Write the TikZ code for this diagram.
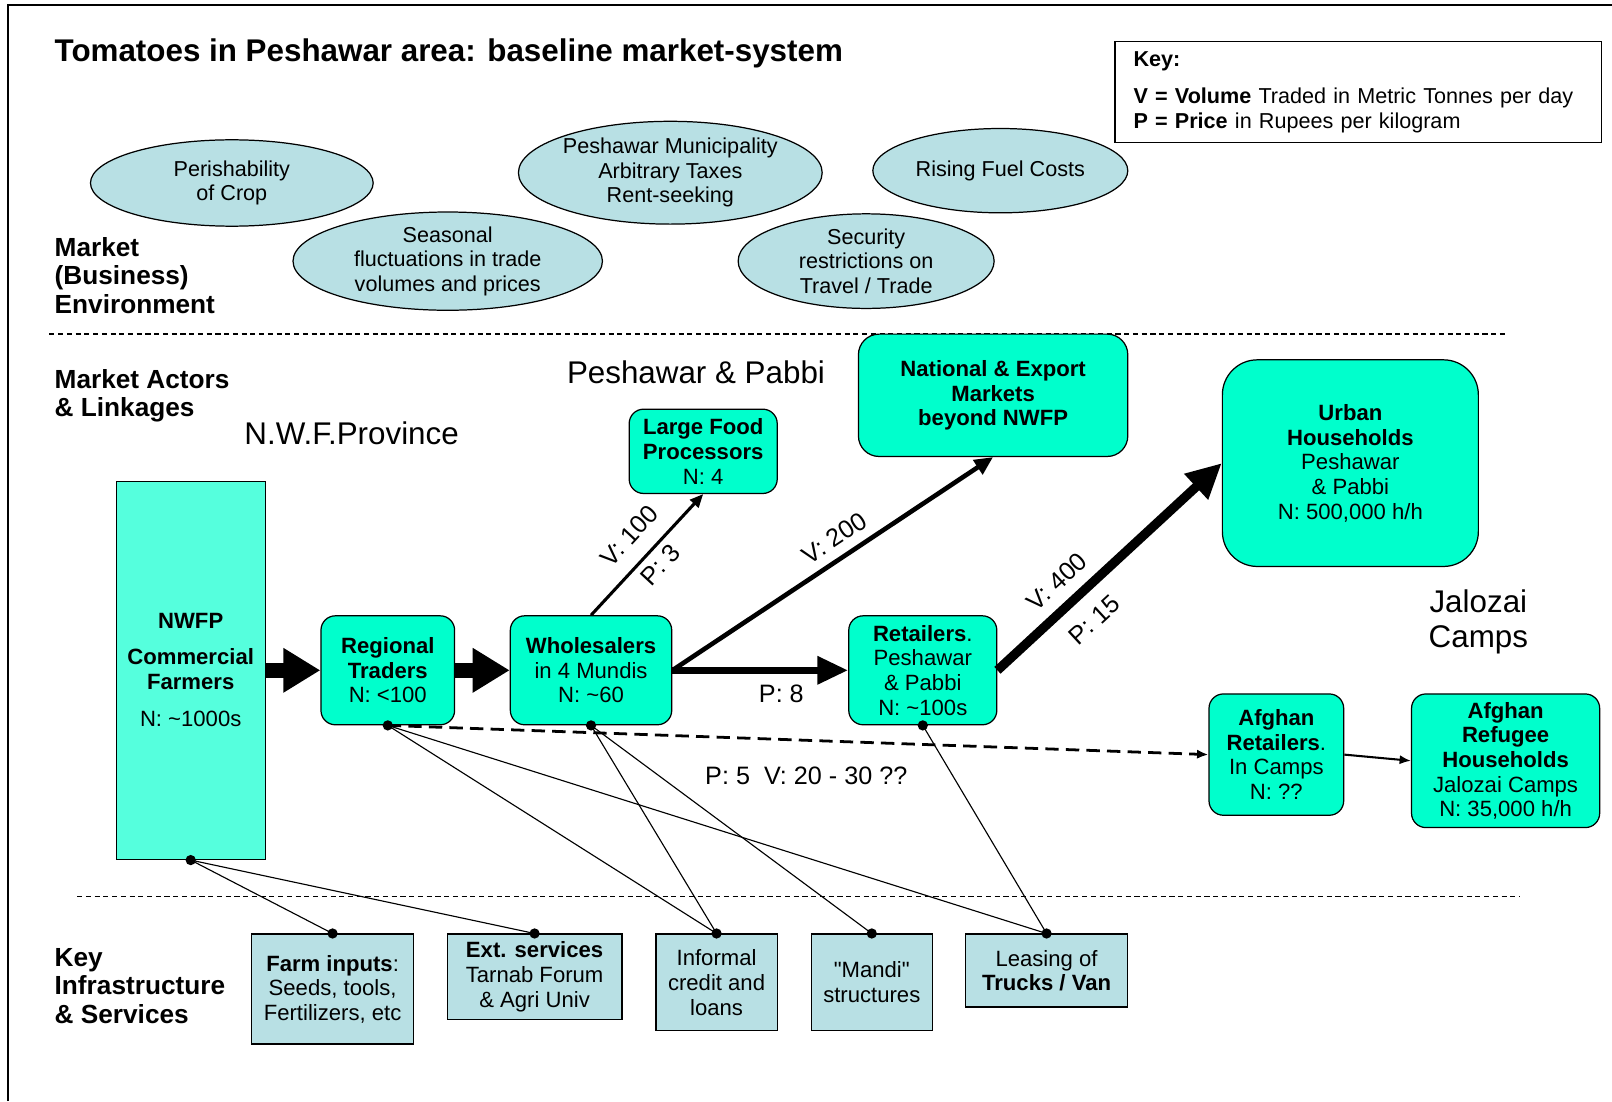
\documentclass[tikz,border=0pt]{standalone}
\usepackage{fontspec}
\setmainfont{Liberation Sans}
\usetikzlibrary{shapes,arrows.meta,calc,positioning}
\definecolor{aqua}{RGB}{0,255,204}
\definecolor{farmaqua}{RGB}{85,255,221}
\definecolor{paleblue}{RGB}{184,224,228}
\tikzset{
    semithick,
    actor/.style ={rectangle, rounded corners=14pt, draw, line width=1.2pt, fill=aqua, align=center, inner sep=2pt, font=\fontsize{21.5}{24}\selectfont},
    infra/.style ={rectangle, draw, line width=1.2pt, fill=paleblue, align=center, inner sep=2pt, font=\fontsize{21.5}{24}\selectfont},
    env/.style ={ellipse, draw, line width=1.2pt, fill=paleblue, align=center, inner sep=0pt, font=\fontsize{21}{24}\selectfont},
    heading/.style = {anchor=west, align=left, inner sep=0pt, font=\bfseries\fontsize{25.5}{28}\selectfont},
    place/.style = {align=center, inner sep=0pt, font=\fontsize{30.5}{34}\selectfont},
    bigflow/.style = {line width=14pt, -{Triangle[length=36pt,width=41pt]}},
    link/.style = {line width=1.1pt},
    sep/.style = {line width=1.3pt, dash pattern=on 5pt off 3.5pt},
    el/.style = {inner sep=2pt, sloped, font=\fontsize{24.5}{28}\selectfont}
}

\begin{document}
\begin{tikzpicture}[x=1pt, y=-1pt]
    \useasboundingbox (0,0) rectangle (1568,1071);
    \draw[line width=2pt] (8,1071) -- (8,5) -- (1568,5);

    \node[anchor=west, inner sep=0pt, font=\bfseries\fontsize{30.5}{34}\selectfont] (title) at (53,52) {Tomatoes in Peshawar area: baseline market-system};
    \node[draw, line width=1.2pt, anchor=north west, minimum height=98pt, align=left, text width=437pt, inner xsep=18pt, font=\fontsize{21}{24}\selectfont] (key) at (1084,40)
        {\textbf{Key:}\\[12pt] \textbf{V = Volume} Traded in Metric Tonnes per day\\ \textbf{P = Price} in Rupees per kilogram};

    \node[heading] (h1) at (53,268) {Market\\(Business)\\Environment};
    \node[heading] (h2) at (53,385) {Market Actors\\\& Linkages};
    \node[heading] (h3) at (53,959) {Key\\Infrastructure\\\& Services};
    \node[place] (pp) at (677,362) {Peshawar \& Pabbi};
    \node[place] (nwfp) at (342,421) {N.W.F.Province};
    \node[place] (jal) at (1438,605) {Jalozai\\Camps};

    % market environment
    \node[env, minimum width=275pt, minimum height=84pt] (15) at (225.5,178) {Perishability\\of Crop};
    \node[env, minimum width=301pt, minimum height=92pt] (16) at (435.5,254) {Seasonal\\fluctuations in trade\\volumes and prices};
    \node[env, minimum width=288pt, minimum height=100pt] (17) at (652,168) {Peshawar Municipality\\Arbitrary Taxes\\Rent-seeking};
    \node[env, minimum width=249pt, minimum height=92pt] (18) at (842.5,254) {Security\\restrictions on\\Travel / Trade};
    \node[env, minimum width=248pt, minimum height=82pt] (19) at (973,166) {Rising Fuel Costs};

    \draw[sep] (48,325) -- (1466,325);
    \draw[sep] (75,872) -- (1478,872);

    % market actors
    \node[actor, sharp corners, fill=farmaqua, minimum width=145pt, minimum height=368pt] (1) at (185.5,652)
        {\textbf{NWFP}\\[11pt] \textbf{Commercial}\\ \textbf{Farmers}\\[12pt] N: \textasciitilde1000s};
    \node[actor, minimum width=130pt, minimum height=106pt, right=53pt of 1] (2) {\textbf{Regional}\\\textbf{Traders}\\N: <100};
    \node[actor, minimum width=157pt, minimum height=106pt, right=53pt of 2] (3) {\textbf{Wholesalers}\\in 4 Mundis\\N: \textasciitilde60};
    \node[actor, minimum width=144pt, minimum height=82pt] (4) at (684,439) {\textbf{Large Food}\\\textbf{Processors}\\N: 4};
    \node[actor, rounded corners=20pt, minimum width=262pt, minimum height=119pt] (5) at (966,384.5) {\textbf{National \& Export}\\\textbf{Markets}\\\textbf{beyond NWFP}};
    \node[actor, minimum width=144pt, minimum height=106pt, right=171pt of 3] (6) {\textbf{Retailers}.\\Peshawar\\\& Pabbi\\N: \textasciitilde100s};
    \node[actor, rounded corners=34pt, minimum width=249pt, minimum height=201pt] (7) at (1313.5,450.5) {\textbf{Urban}\\\textbf{Households}\\Peshawar\\\& Pabbi\\N: 500,000 h/h};
    \node[actor, minimum width=131pt, minimum height=118pt] (8) at (1241.5,734) {\textbf{Afghan}\\\textbf{Retailers}.\\In Camps\\N: ??};
    \node[actor, minimum width=183pt, minimum height=130pt] (9) at (1464.5,740) {\textbf{Afghan}\\\textbf{Refugee}\\\textbf{Households}\\Jalozai Camps\\N: 35,000 h/h};

    % infrastructure and services
    \node[infra, anchor=north, minimum width=157pt, minimum height=107pt] (10) at (323.5,908) {\textbf{Farm inputs}:\\Seeds, tools,\\Fertilizers, etc};
    \node[infra, anchor=north, minimum width=170pt, minimum height=83pt] (11) at (520,908) {\textbf{Ext. services}\\Tarnab Forum\\\& Agri Univ};
    \node[infra, anchor=north, minimum width=118pt, minimum height=94pt] (12) at (697,908) {Informal\\credit and\\loans};
    \node[infra, anchor=north, minimum width=118pt, minimum height=94pt] (13) at (848,908) {\textquotedbl Mandi\textquotedbl\\structures};
    \node[infra, anchor=north, minimum width=158pt, minimum height=71pt] (14) at (1018,908) {Leasing of\\\textbf{Trucks / Van}};

    \path (1) edge[bigflow] (2);
    \path (2) edge[bigflow] (3);
    \path (3) edge[line width=7pt, -{Triangle[length=30pt,width=26pt]}] node[el, below=9pt, pos=.62, name=p8] {P: 8} (6);
    \path (3.north) edge[line width=3pt, -{Triangle[length=13pt,width=11pt]}] node[el, above=13pt, pos=.51, name=v100] {V: 100} node[el, below=4pt, pos=.51, name=p3] {P: 3} (4.south);
    \path (3.east) edge[line width=4.5pt, -{Triangle[length=18pt,width=16pt]}] node[el, above=7pt, pos=.54, name=v200] {V: 200} (5.south);
    \path (6.east) edge[line width=9pt, -{Triangle[length=34pt,width=32pt]}] node[el, above=9pt, pos=.34, name=v400] {V: 400} node[el, below=13pt, pos=.345, name=p15] {P: 15} (7.west);
    \path (2.south) edge[line width=2.7pt, dash pattern=on 13pt off 7pt, -{Latex[length=11pt,width=9pt]}] node[el, sloped=false, below=23pt, pos=.51, name=p5] {P: 5\ \ V: 20 - 30 ??} (8.west);
    \path (8.east) edge[line width=2pt, -{Latex[length=11pt,width=9pt]}] (9.west);

    \foreach \a/\b in {1/10,1/11,2/12,2/14,3/12,3/13,6/14}
        \draw[link] (\a.south) -- (\b.north);
    \foreach \a in {1,2,3,6}
        \fill (\a.south) circle (5pt);
    \foreach \b in {10,...,14}
        \fill (\b.north) circle (5pt);

\end{tikzpicture}
\end{document}
